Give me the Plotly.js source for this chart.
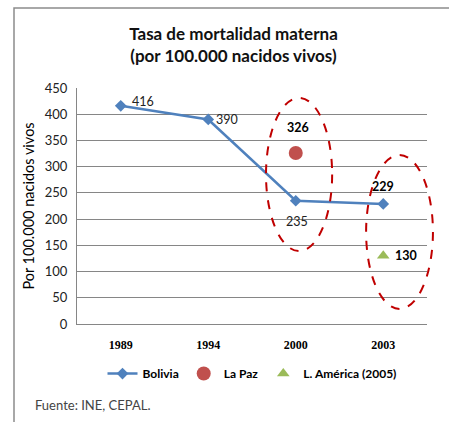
<!DOCTYPE html>
<html><head><meta charset="utf-8">
<script src="https://cdn.plot.ly/plotly-3.0.1.min.js"></script>
<style>html,body{margin:0;padding:0;background:#fff}#chart{width:449px;height:422px}</style>
</head><body><div id="chart"></div>
<script>
const years = ['1989','1994','2000','2003'];
const bolivia = [416, 390, 235, 229];
const laPazX = ['2000'];
const laPaz = [326];
const latamX = ['2003'];
const latam = [130];
const yTicks = [0,50,100,150,200,250,300,350,400,450];

const FAM = 'Lato, "Open Sans", sans-serif';
const labelFont = {family:FAM, size:12.5, color:'#222'};
const boldFont = {family:FAM, size:12.5, color:'#000', weight:'bold'};

// label offsets (pixels) for Bolivia data labels
const bolOffsets = [[22,-4],[19,0],[1,21],[0,-17]];
const annotations = [];
bolivia.forEach((v,i)=>{
  annotations.push({x:years.indexOf(years[i]), y:v, xref:'x', yref:'y', text:String(v), showarrow:false,
    xshift:bolOffsets[i][0], yshift:-bolOffsets[i][1],
    font: i===3 ? boldFont : labelFont});
});
annotations.push({x:years.indexOf(laPazX[0]), y:laPaz[0], xref:'x', yref:'y', text:String(laPaz[0]), showarrow:false,
  xshift:2, yshift:26, font:boldFont});
annotations.push({x:years.indexOf(latamX[0]), y:latam[0], xref:'x', yref:'y', text:String(latam[0]), showarrow:false,
  xshift:23, yshift:0, font:boldFont});
annotations.push({xref:'paper', yref:'paper', x:-0.125, y:-0.345, xanchor:'left', yanchor:'middle',
  text:'Fuente: INE, CEPAL.', showarrow:false, font:{family:FAM, size:13, color:'#444'}});

const traces = [
  {x:years, y:bolivia, name:'Bolivia', type:'scatter', mode:'lines+markers',
   line:{color:'#4F81BD', width:2.5}, marker:{symbol:'diamond', size:9, color:'#4F81BD'}},
  {x:laPazX, y:laPaz, name:'La Paz', type:'scatter', mode:'markers',
   marker:{symbol:'circle', size:14, color:'#C0504D'}},
  {x:latamX, y:latam, name:'L. América (2005)', type:'scatter', mode:'markers',
   marker:{symbol:'triangle-up', size:11, color:'#9BBB59'}}
];

const shapes = [
  {type:'path', xref:'paper', yref:'paper', path:'M -0.18 -0.42 L -0.18 1.339 L 1.2 1.339',
   line:{color:'#8c8c8c', width:1.5}},
  {type:'circle', xref:'paper', yref:'paper', x0:0.54, x1:0.729, y0:0.309, y1:0.958,
   line:{color:'#C00000', width:2, dash:'dash'}},
  {type:'circle', xref:'paper', yref:'paper', x0:0.826, x1:1.017, y0:0.064, y1:0.716,
   line:{color:'#C00000', width:2, dash:'dash'}}
];

const layout = {
  width:449, height:422,
  margin:{l:77, r:22, t:88, b:98},
  paper_bgcolor:'#fff', plot_bgcolor:'#fff',
  showlegend:true,
  title:{text:'Tasa de mortalidad materna<br>(por 100.000 nacidos vivos)', x:0.52, xref:'container',
    y:0.905, yref:'container', yanchor:'top',
    font:{family:FAM, size:17, color:'#111', weight:'bold'}},
  xaxis:{type:'category', range:[-0.5,3.5], showgrid:false, showline:true, linecolor:'#868686', linewidth:1,
    ticks:'', tickfont:{family:'"Liberation Serif", serif', size:12, color:'#000', weight:'bold'}, ticklabelstandoff:10},
  yaxis:{range:[0,450], tickvals:yTicks, showgrid:true, gridcolor:'#868686', gridwidth:1, zeroline:false,
    showline:true, linecolor:'#868686', linewidth:1, ticks:'', ticklabelstandoff:6,
    tickfont:{family:FAM, size:13, color:'#222'},
    title:{text:'Por 100.000 nacidos vivos', standoff:6, font:{family:FAM, size:14.5, color:'#000'}}},
  legend:{orientation:'h', x:0.5, xanchor:'center', y:-0.21, yanchor:'middle',
    font:{family:FAM, size:12, color:'#000', weight:'bold'}, itemwidth:30, traceorder:'normal'},
  annotations:annotations,
  shapes:shapes
};
Plotly.newPlot('chart', traces, layout, {displayModeBar:false, staticPlot:true});
</script></body></html>
